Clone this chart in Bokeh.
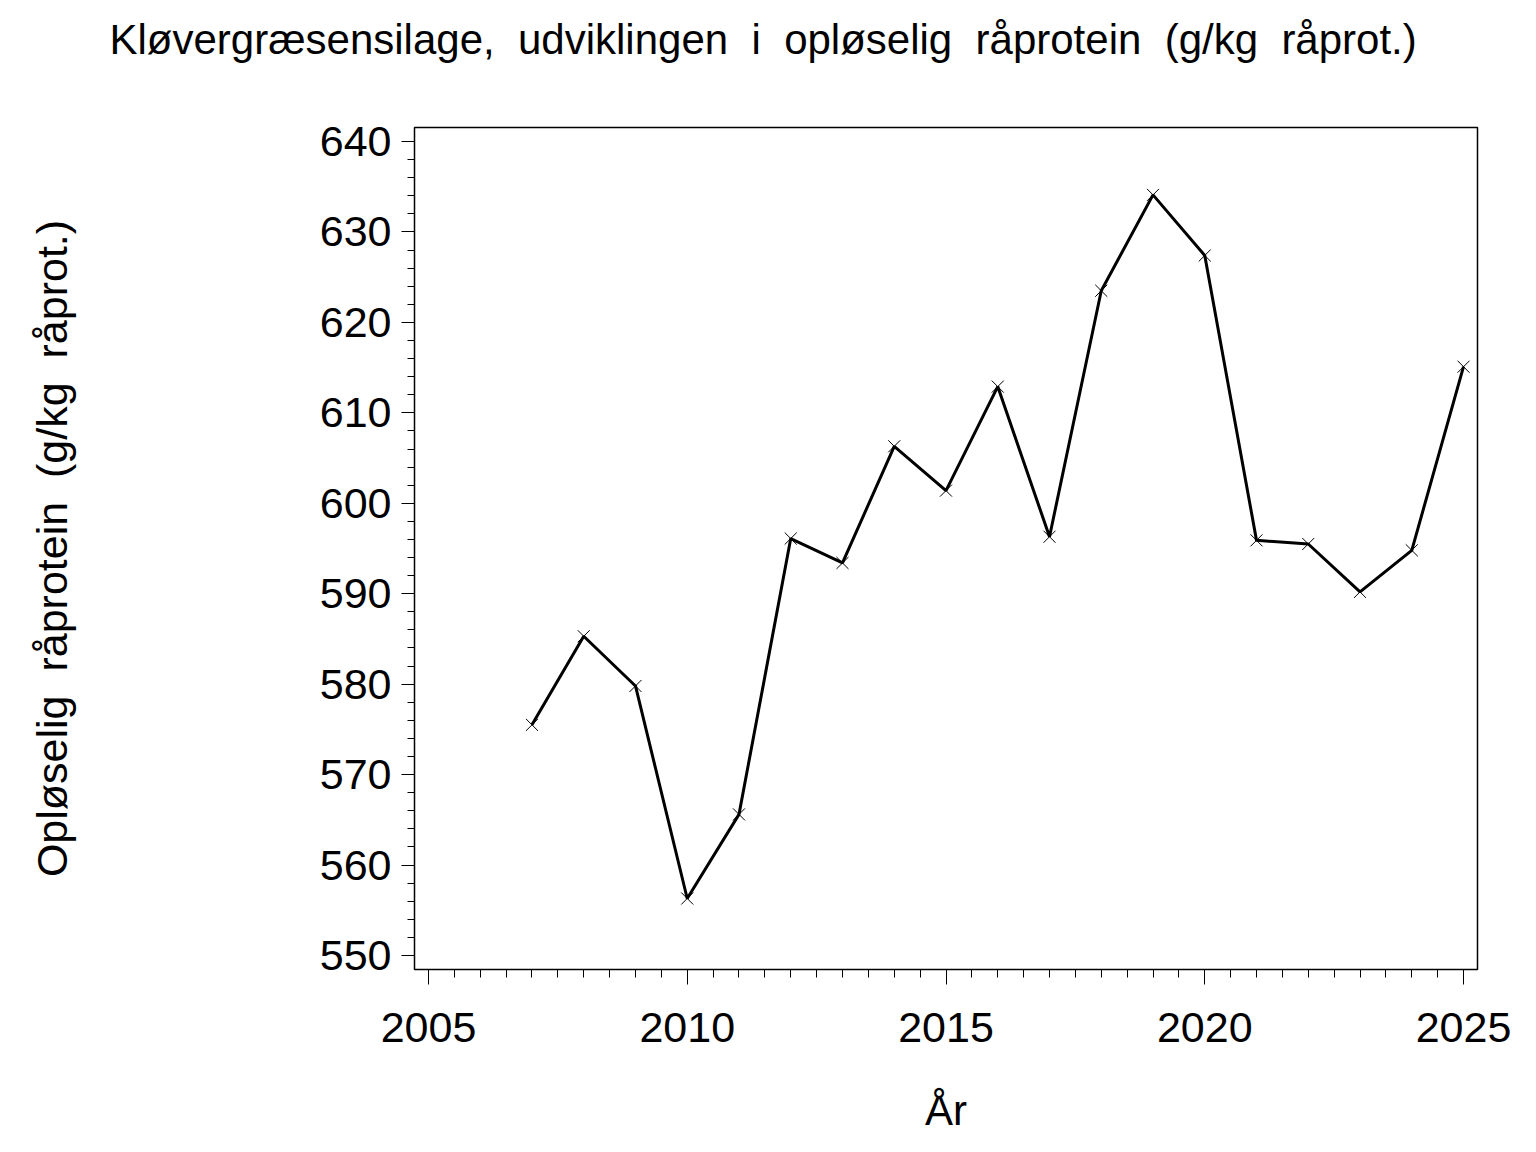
from bokeh.plotting import figure
from bokeh.models import Range1d, Title, FixedTicker
from bokeh.embed import file_html
from bokeh.resources import INLINE

years = [2007, 2008, 2009, 2010, 2011, 2012, 2013, 2014, 2015, 2016,
         2017, 2018, 2019, 2020, 2021, 2022, 2023, 2024, 2025]
values = [575.5, 585.3, 579.8, 556.3, 565.6, 596.1, 593.4, 606.3, 601.4, 612.9,
          596.3, 623.5, 634.1, 627.4, 595.9, 595.5, 590.2, 594.8, 615.1]
x_ticks = [2005, 2010, 2015, 2020, 2025]
y_ticks = [550, 560, 570, 580, 590, 600, 610, 620, 630, 640]
SP = " \u00a0"
title_text = SP.join(["Kløvergræsensilage,", "udviklingen", "i", "opløselig",
                      "råprotein", "(g/kg", "råprot.)"])
x_label = "År"
y_label = SP.join(["Opløselig", "råprotein", "(g/kg", "råprot.)"])

FONT = "Liberation Sans"

p = figure(width=1520, height=1136, output_backend="svg", toolbar_location=None,
           x_range=Range1d(2004.73, 2025.27), y_range=Range1d(548.45, 641.55),
           min_border_left=414, min_border_right=43, min_border_top=127, min_border_bottom=160)
p.background_fill_color = "white"
p.border_fill_color = "white"
p.outline_line_color = "black"
p.outline_line_width = 1.5
p.grid.visible = False

p.line(years, values, line_color="black", line_width=3)
p.scatter(years, values, marker="x", size=17, line_color="black", line_width=1)

for ax in (p.xaxis[0], p.yaxis[0]):
    ax.axis_line_color = "black"
    ax.major_tick_line_color = "black"
    ax.minor_tick_line_color = "black"
    ax.major_tick_in = 0
    ax.minor_tick_in = 0
    ax.major_label_text_font = FONT
    ax.major_label_text_font_size = "43px"
    ax.major_label_text_color = "black"
    ax.axis_label_text_font = FONT
    ax.axis_label_text_font_style = "normal"
    ax.axis_label_text_color = "black"

p.xaxis.ticker = FixedTicker(ticks=x_ticks,
                             minor_ticks=[2005 + 0.5 * i for i in range(41)])
p.yaxis.ticker = FixedTicker(ticks=y_ticks,
                             minor_ticks=[550 + 2 * i for i in range(46)])
p.xaxis.major_tick_out = 15
p.xaxis.minor_tick_out = 8
p.yaxis.major_tick_out = 13
p.yaxis.minor_tick_out = 7
p.xaxis.major_label_standoff = 28
p.yaxis.major_label_standoff = 10

p.xaxis.axis_label = x_label
p.xaxis.axis_label_text_font_size = "42px"
p.xaxis.axis_label_standoff = 42
p.yaxis.axis_label = y_label
p.yaxis.axis_label_text_font_size = "43px"
p.yaxis.axis_label_standoff = 241

# invisible spacer next to the frame, then the real title outside it
spacer = Title(text="\u00a0", text_font=FONT, text_font_size="10px",
               text_color="white", standoff=52)
p.add_layout(spacer, "above")
title = Title(text=title_text, align="left", offset=-305,
              text_font=FONT, text_font_size="42px", text_color="black",
              text_font_style="normal", standoff=0)
p.add_layout(title, "above")

open("out.html", "w").write(file_html(p, INLINE))
